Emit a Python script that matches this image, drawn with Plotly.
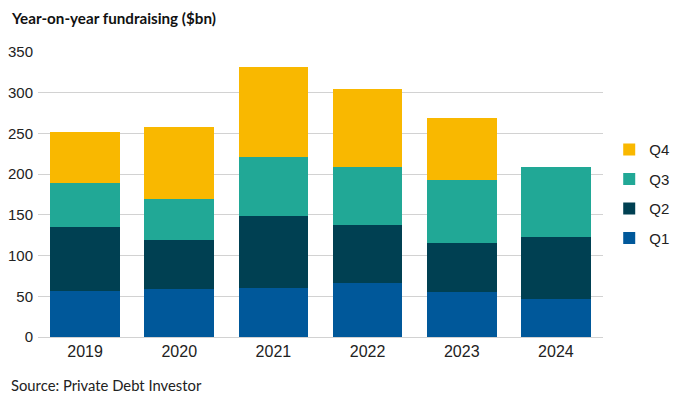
import plotly.graph_objects as go

years = ["2019", "2020", "2021", "2022", "2023", "2024"]
q1 = [57, 59, 60, 66, 55, 47]
q2 = [78, 60, 88, 72, 61, 76]
q3 = [54, 50, 73, 71, 77, 86]
q4 = [63, 89, 111, 96, 76, 0]

series = [("Q1", q1, "#00589a", 4), ("Q2", q2, "#004052", 3),
          ("Q3", q3, "#21a896", 2), ("Q4", q4, "#f9b800", 1)]

fig = go.Figure()
for name, vals, col, rank in series:
    fig.add_trace(go.Bar(x=years, y=vals, name=name, marker=dict(color=col, line=dict(width=0)),
                         legendgroup=name, legendrank=rank))

fig.update_layout(
    width=679, height=394,
    barmode="stack", bargap=0.26,
    plot_bgcolor="white", paper_bgcolor="white",
    margin=dict(l=30, r=81, t=44, b=65),
    font=dict(family="Liberation Sans, Arial, sans-serif", size=15, color="#222"),
    legend=dict(traceorder="grouped", tracegroupgap=7, x=1.011, xanchor="left",
                y=0.715, yanchor="top", font=dict(size=15), itemwidth=30),
    showlegend=True,
    xaxis=dict(showgrid=False, ticks="", tickfont=dict(size=16), ticklabelstandoff=3,
               automargin=False),
    yaxis=dict(range=[0, 350], dtick=50, showgrid=True, gridcolor="#d2d2d2", gridwidth=1,
               zeroline=True, zerolinecolor="#d2d2d2", zerolinewidth=1, ticks="",
               ticklabelstandoff=4, tickfont=dict(size=15), automargin=False),
    annotations=[
        dict(text="<b>Year-on-year fundraising ($bn)</b>", xref="paper", yref="paper",
             x=-0.051, y=1.0, yshift=34, xanchor="left", yanchor="middle", showarrow=False,
             font=dict(family="Lato, sans-serif", size=15.2, color="#111")),
        dict(text="Source: Private Debt Investor", xref="paper", yref="paper",
             x=-0.051, y=0, yshift=-48, xanchor="left", yanchor="middle", showarrow=False,
             font=dict(family="Lato, sans-serif", size=14.8, color="#222")),
    ],
)

fig.write_html("out.html")
